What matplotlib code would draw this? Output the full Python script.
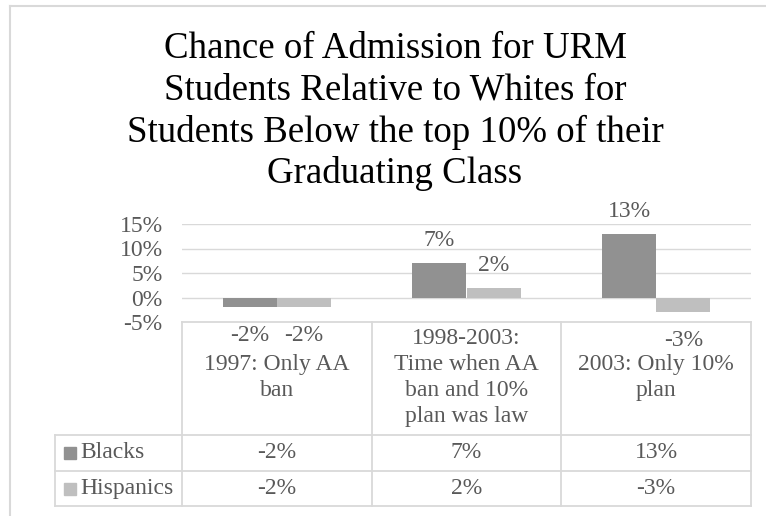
import numpy as np
import matplotlib
matplotlib.use("Agg")
import matplotlib.pyplot as plt
from matplotlib.lines import Line2D
from matplotlib.patches import Rectangle
from matplotlib.transforms import blended_transform_factory

plt.rcParams['font.family'] = ['Liberation Serif', 'DejaVu Serif']

# data
categories = ["1997: Only AA\nban",
              "1998-2003:\nTime when AA\nban and 10%\nplan was law",
              "2003: Only 10%\nplan"]
series_names = ["Blacks", "Hispanics"]
blacks = [-2, 7, 13]
hispanics = [-2, 2, -3]
series_colors = ["#919191", "#bfbfbf"]
title = ("Chance of Admission for URM\nStudents Relative to Whites for\n"
         "Students Below the top 10% of their\nGraduating Class")
yticks = [-5, 0, 5, 10, 15]

W, H = 766, 516
TXT = "#595959"
GRID = "#d9d9d9"
FS = 17

fig = plt.figure(figsize=(W / 100, H / 100), dpi=100)


def fy(py):
    return 1 - py / H


def fx(px):
    return px / W


# plot area in pixels
left, right, top, bottom = 182, 751, 224, 322
ax = fig.add_axes([fx(left), fy(bottom), fx(right) - fx(left), fy(top) - fy(bottom)])
ax.set_xlim(-0.5, len(categories) - 0.5)
ax.set_ylim(-5, 15)
for s in ax.spines.values():
    s.set_visible(False)
ax.set_yticks(yticks)
ax.set_yticklabels([f"{t}%" for t in yticks])
ax.tick_params(axis='y', length=0, pad=14, labelsize=FS, labelcolor=TXT)
ax.set_xticks([])
for t in yticks[1:]:
    ax.axhline(t, color=GRID, lw=1.0, zorder=0)

w = 1 / 3.5
x = np.arange(len(categories))
for i, (vals, col) in enumerate(zip([blacks, hispanics], series_colors)):
    xs = x - w / 2 + i * w
    ax.bar(xs, vals, width=w, color=col, zorder=2)
    for xi, v in zip(xs, vals):
        if v >= 0:
            ax.annotate(f"{v}%", (xi, v), xytext=(0, 12.2), textcoords="offset points",
                        ha="center", va="baseline", fontsize=FS, color=TXT,
                        annotation_clip=False)
        else:
            ax.annotate(f"{v}%", (xi, v), xytext=(0, -12.5), textcoords="offset points",
                        ha="center", va="top", fontsize=FS, color=TXT,
                        annotation_clip=False)

# data table below the plot
tr = blended_transform_factory(ax.transData, fig.transFigure)
row_y = [322, 435, 471, 506]
edges = np.arange(len(categories) + 1) - 0.5
lw = 1.3
fig.add_artist(Line2D([fx(left), fx(right)], [fy(row_y[0])] * 2, color=GRID, lw=lw))
for yy in row_y[1:]:
    fig.add_artist(Line2D([fx(55), fx(right)], [fy(yy)] * 2, color=GRID, lw=lw))
for e in edges:
    fig.add_artist(Line2D([e, e], [fy(row_y[0]), fy(row_y[-1])], color=GRID, lw=lw,
                          transform=tr))
fig.add_artist(Line2D([fx(55)] * 2, [fy(row_y[1]), fy(row_y[-1])], color=GRID, lw=lw))

hdr_mid = (row_y[0] + row_y[1]) / 2
for xi, lab in zip(x, categories):
    fig.text(xi, fy(hdr_mid - 1), lab, transform=tr, ha="center", va="center",
             fontsize=FS, color=TXT, linespacing=1.3)

for r, (name, vals, col) in enumerate(zip(series_names, [blacks, hispanics], series_colors)):
    mid = (row_y[r + 1] + row_y[r + 2]) / 2
    fig.add_artist(Rectangle((fx(64), fy(mid + 6)), fx(76) - fx(64), fy(mid - 6) - fy(mid + 6),
                             color=col, transform=fig.transFigure))
    fig.text(fx(80), fy(mid), name, ha="left", va="center", fontsize=FS, color=TXT)
    for xi, v in zip(x, vals):
        fig.text(xi, fy(mid), f"{v}%", transform=tr, ha="center", va="center",
                 fontsize=FS, color=TXT)

# chart border (cropped at right and bottom)
fig.add_artist(Line2D([fx(10), 1], [fy(6)] * 2, color=GRID, lw=1.5))
fig.add_artist(Line2D([fx(10)] * 2, [fy(6), 0], color=GRID, lw=1.5))

fig.text(fx(395), fy(32), title, ha="center", va="top", fontsize=26.6,
         color="black", linespacing=1.25)

fig.savefig("out.png", dpi=100)
